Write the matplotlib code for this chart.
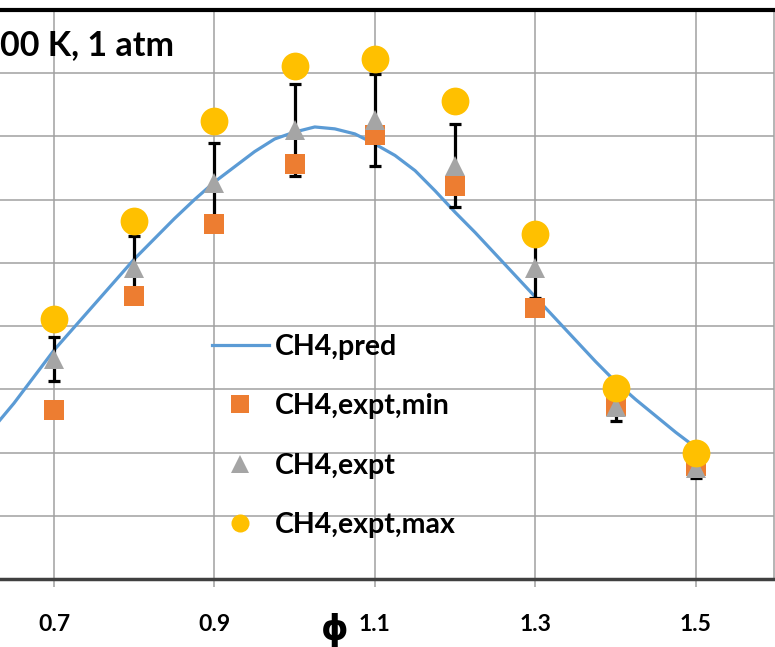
import numpy as np
import matplotlib
matplotlib.use('Agg')
import matplotlib.pyplot as plt

# ---- data ----
phi_pred = [0.600, 0.625, 0.650, 0.675, 0.700, 0.725, 0.750, 0.775, 0.800, 0.825,
            0.850, 0.875, 0.900, 0.925, 0.950, 0.975, 1.000, 1.025, 1.050, 1.075,
            1.100, 1.125, 1.150, 1.175, 1.200, 1.225, 1.250, 1.275, 1.300, 1.325,
            1.350, 1.375, 1.400, 1.425, 1.450, 1.475, 1.500]
su_pred = [10.1, 12.0, 13.9, 16.0, 18.1, 19.9, 21.7, 23.5, 25.3, 26.9,
           28.5, 30.0, 31.4, 32.6, 33.8, 34.8, 35.35, 35.75, 35.6, 35.2,
           34.4, 33.5, 32.3, 30.7, 29.0, 27.4, 25.7, 24.0, 22.3, 20.6,
           18.9, 17.2, 15.6, 14.2, 12.9, 11.6, 10.4]

phi_expt = [0.7, 0.8, 0.9, 1.0, 1.1, 1.2, 1.3, 1.4, 1.5]
su_min = [13.4, 22.4, 28.1, 32.8, 35.1, 31.1, 21.4, 13.7, 8.9]
su_expt = [17.4, 24.6, 31.3, 35.5, 36.3, 32.7, 24.6, 13.6, 8.8]
su_max = [20.6, 28.3, 36.2, 40.6, 41.1, 37.8, 27.3, 15.1, 10.0]
su_err = [1.75, 2.5, 3.15, 3.65, 3.65, 3.3, 2.4, 1.1, 0.8]

xticks = [0.7, 0.9, 1.1, 1.3, 1.5]
xtick_labels = ['0.7', '0.9', '1.1', '1.3', '1.5']
title_text = '00 K, 1 atm'
xlabel_text = 'ϕ'
labels = ['CH4,pred', 'CH4,expt,min', 'CH4,expt', 'CH4,expt,max']

# ---- style ----
plt.rcParams['font.family'] = ['Lato', 'DejaVu Sans']
plt.rcParams['font.weight'] = 'bold'

W, H = 775, 647
fig = plt.figure(figsize=(W / 100, H / 100), dpi=100)
ax = fig.add_axes([0 / W, (H - 579) / H, 774 / W, 569 / H])

grid_c = '#A0A0A0'
ax.set_xticks(xticks)
ax.set_xticklabels(xtick_labels)
ax.set_yticks(np.arange(0, 46, 5))
ax.set_yticklabels([])
ax.set_xlim(0.6326, 1.5975)
ax.set_ylim(0, 45)
ax.tick_params(axis='y', length=0)
ax.tick_params(axis='x', direction='out', length=6, width=1.1, color=grid_c,
               labelsize=16.5, pad=19)
for lab in ax.get_xticklabels():
    lab.set_fontweight('bold')
ax.grid(True, color=grid_c, linewidth=1.1)
ax.set_axisbelow(True)

ax.spines['left'].set_visible(False)
ax.spines['top'].set_color('black')
ax.spines['top'].set_linewidth(3)
ax.spines['right'].set_color(grid_c)
ax.spines['right'].set_linewidth(1.1)
ax.spines['bottom'].set_color('#404040')
ax.spines['bottom'].set_linewidth(2.5)

# ---- series ----
line, = ax.plot(phi_pred, su_pred, color='#5B9BD5', linewidth=2.3, zorder=3,
                solid_joinstyle='round')
ax.errorbar(phi_expt, su_expt, yerr=su_err, fmt='none', ecolor='black',
            elinewidth=2.3, capsize=4.3, capthick=2.3, zorder=4)
sq, = ax.plot(phi_expt, su_min, linestyle='none', marker='s', markersize=14.4,
              color='#ED7D31', markeredgewidth=0, zorder=5)
tri, = ax.plot(phi_expt, su_expt, linestyle='none', marker='^', markersize=14.5,
               color='#A5A5A5', markeredgewidth=0, zorder=6)
circ, = ax.plot(phi_expt, su_max, linestyle='none', marker='o', markersize=20,
                color='#FFC000', markeredgewidth=0, zorder=7)

leg = ax.legend([line, sq, tri, circ], labels, loc='upper left',
                bbox_to_anchor=(212 / 774, (579 - 334) / 569), frameon=False,
                prop={'family': ['Lato', 'DejaVu Sans'], 'weight': 'bold', 'size': 20.5},
                handlelength=2.0, handletextpad=0.2, labelspacing=1.17,
                borderaxespad=0, borderpad=0)
for h in leg.legend_handles:
    try:
        if h.get_marker() == 'o':
            h.set_markersize(13)
        elif h.get_marker() in ('s', '^'):
            h.set_markersize(13.5)
    except Exception:
        pass

ax.text(0 / 774, (579 - 45) / 569, title_text, transform=ax.transAxes,
        ha='left', va='center', fontsize=24.5, fontweight='bold', color='black')

ax.set_xlabel(xlabel_text, fontsize=25, fontweight='bold',
              family=['DejaVu Sans'])
ax.xaxis.set_label_coords(335 / 774, -(630 - 579) / 569)
ax.xaxis.label.set_verticalalignment('center')

fig.savefig('out.png', dpi=100)
